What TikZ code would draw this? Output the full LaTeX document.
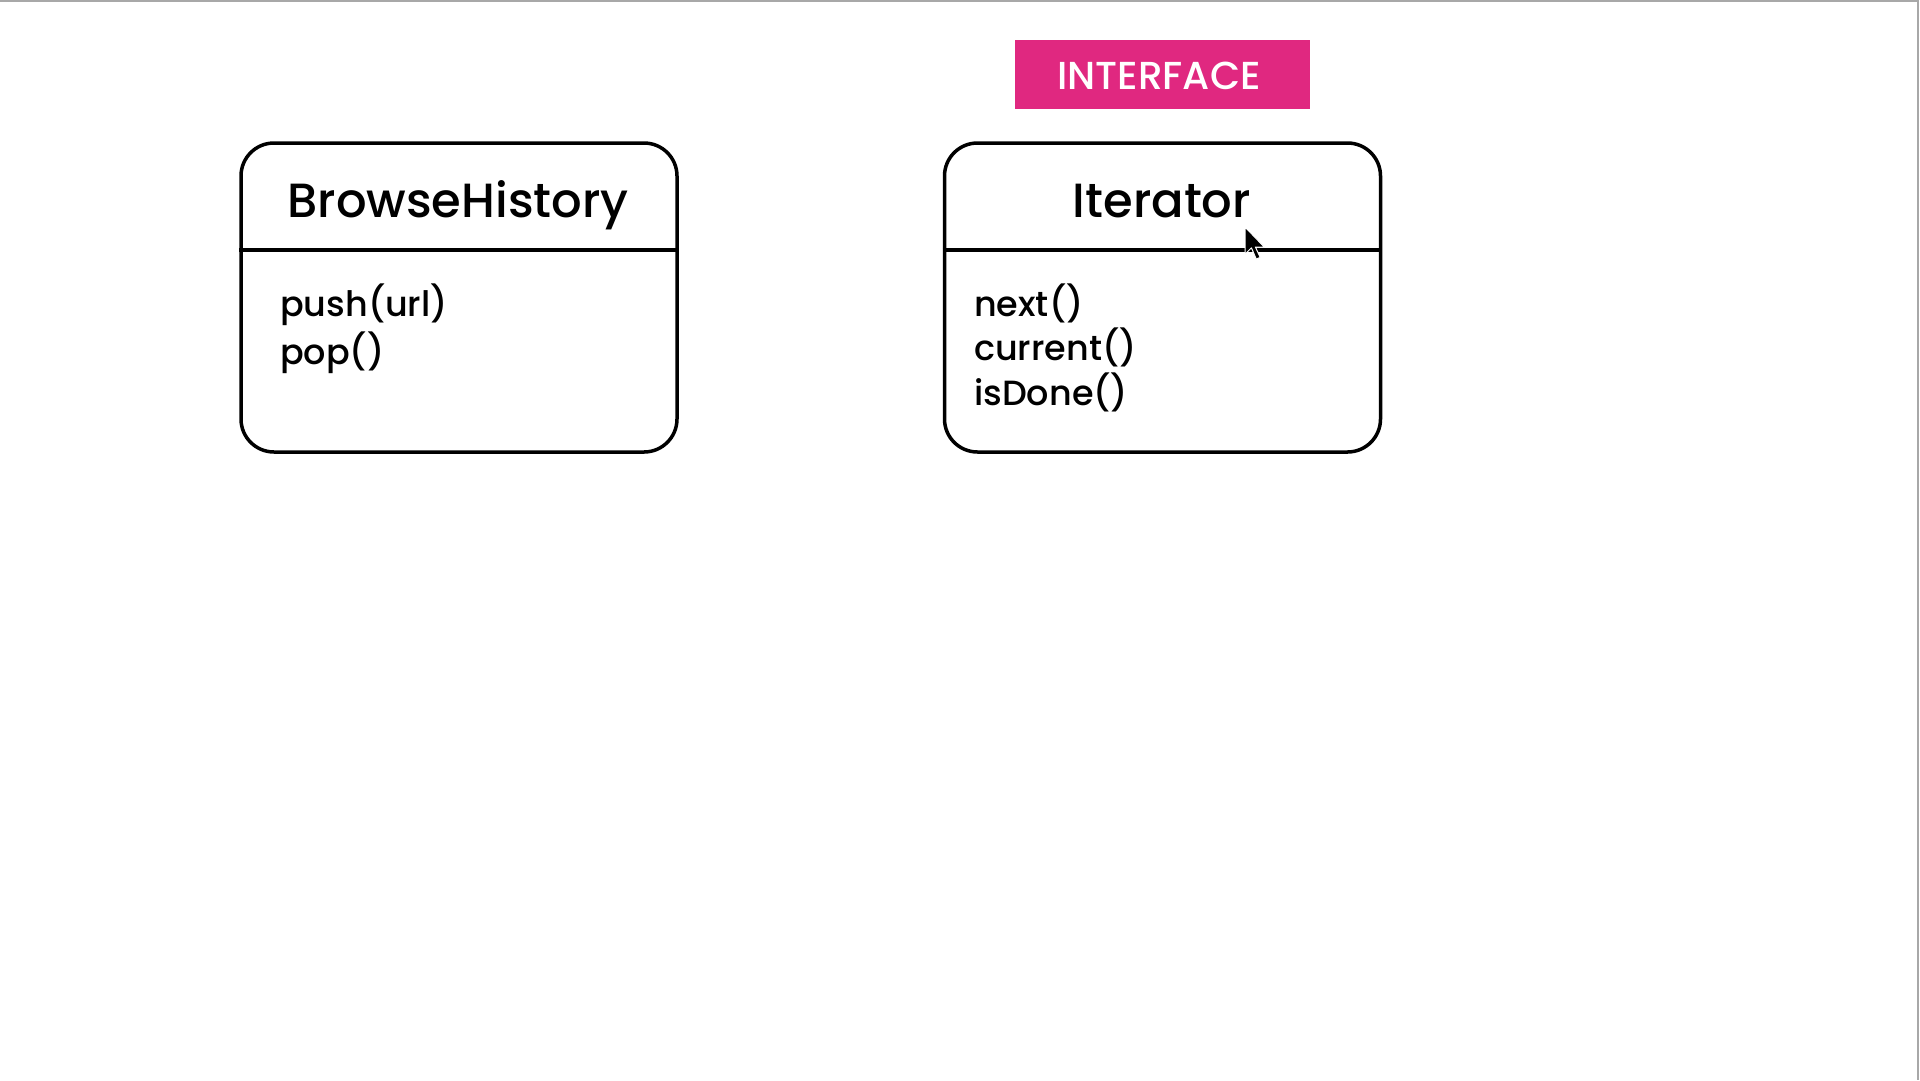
\documentclass[tikz,border=0pt]{standalone}
\usepackage{fontspec}
\setmainfont{Poppins}[UprightFont=* Medium]
\definecolor{ifacepink}{HTML}{E02880}
\definecolor{framegray}{HTML}{A8A8A8}
\tikzset{
  classbox/.style={draw=black, line width=3.5pt, rounded corners=33pt, minimum width=436pt, minimum height=309pt, inner sep=0pt},
  classtitle/.style={inner sep=0pt, anchor=base, font=\fontsize{48}{57}\selectfont},
  member/.style={inner sep=0pt, anchor=base west, font=\fontsize{35}{42}\selectfont},
  ifacetag/.style={fill=ifacepink, text=white, minimum width=295pt, minimum height=69pt, inner sep=0pt, font=\fontsize{39}{46}\selectfont},
  divider/.style={line width=3.5pt, black}
}
\begin{document}
\begin{tikzpicture}[x=1pt,y=-1pt]
\useasboundingbox (0,0) rectangle (1920,1080);
\fill[white] (0,0) rectangle (1920,1080);
\draw[framegray, line width=2pt] (0,1) -- (1918,1) -- (1918,1080);

% BrowseHistory class
\node[classbox] (bh) at (459,297.5) {};
\draw[divider] (bh.west |- 0,250) -- (bh.east |- 0,250);
\node[classtitle] (bhtitle) at (458,217) {BrowseHistory};
\node[member] (bhpush) at (280,316.5) {push(url)};
\node[member] (bhpop) at (280,364.5) {pop()};

% Iterator interface
\node[ifacetag] (tag) at (1162.5,74.5) {};
\node[inner sep=0pt, text=white, font=\fontsize{39}{46}\selectfont] (tagtext) at (1159,75.5) {INTERFACE};
\node[classbox] (it) at (1162.5,297.5) {};
\draw[divider] (it.west |- 0,250) -- (it.east |- 0,250);
\node[classtitle] (ittitle) at (1162,217) {Iterator};
\node[member] (itnext) at (974,316) {next()};
\node[member] (itcur) at (974,360.5) {current()};
\node[member] (itdone) at (974,405) {isDone()};

% mouse pointer
\begin{scope}[shift={(1245,227)}, scale=1.6]
\filldraw[fill=black, draw=white, line width=1pt, line join=round]
  (0,0) -- (0,17) -- (4,13) -- (7,20) -- (9.5,19) -- (6.5,12.5) -- (12,12.5) -- cycle;
\end{scope}
\end{tikzpicture}
\end{document}
